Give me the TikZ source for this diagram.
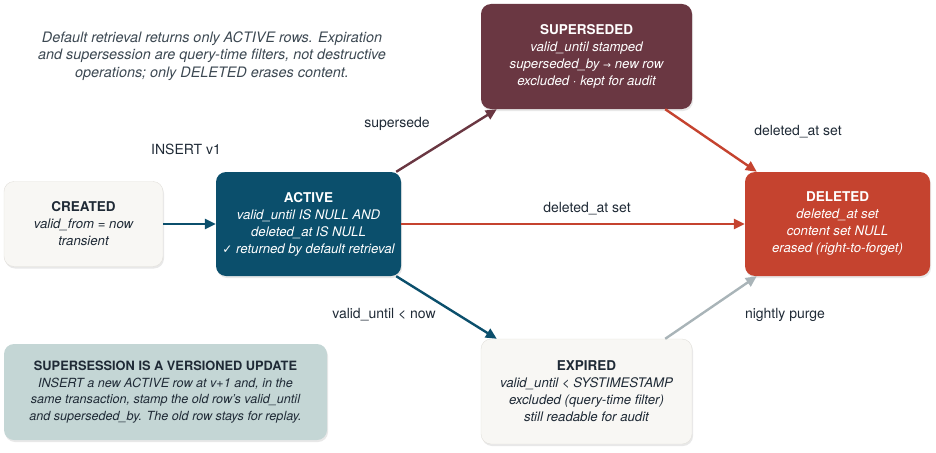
\documentclass[tikz,border=0pt]{standalone}
\usepackage{fontspec}
\setmainfont{TeX Gyre Heros}
\newfontfamily\symfont{DejaVu Sans}
\usetikzlibrary{arrows.meta,shadows}
\definecolor{ink}{HTML}{1F2A36}
\definecolor{notegray}{HTML}{3C4852}
\definecolor{paper}{HTML}{F8F7F4}
\definecolor{paperline}{HTML}{E2E0DB}
\definecolor{activecol}{HTML}{0B4F6C}
\definecolor{supercol}{HTML}{6A3742}
\definecolor{deletedcol}{HTML}{C5432F}
\definecolor{notefill}{HTML}{C4D6D5}
\definecolor{purgecol}{HTML}{A9B4B8}
\newcommand{\ttl}[1]{{\upshape\bfseries\fontsize{13.5}{17}\selectfont #1}}
\begin{document}
\begin{tikzpicture}[x=1pt,y=-1pt,
	state/.style={rounded corners=10pt, align=center, inner sep=0pt,
		font=\fontsize{13.2}{17}\selectfont\itshape,
		drop shadow={opacity=0.18, shadow xshift=1pt, shadow yshift=-2pt}},
	lbl/.style={text=ink, font=\fontsize{14}{16}\selectfont},
	flow/.style={line width=2.4pt, -{Triangle[length=11pt,width=10pt]}}]
	\useasboundingbox (0,0) rectangle (936,452);
	\node (intro) at (212,56) [text=notegray, align=center, font=\fontsize{14.4}{17.5}\selectfont\itshape]
		{Default retrieval returns only ACTIVE rows. Expiration\\and supersession are query-time filters, not destructive\\operations; only DELETED erases content.};
	\node (created) at (83.5,224) [state, minimum width=159pt, minimum height=85pt, fill=paper, draw=paperline, text=ink]
		{\ttl{CREATED}\\valid\_from = now\\transient};
	\node (active) at (308.5,224) [state, minimum width=185pt, minimum height=104pt, fill=activecol, text=white]
		{\ttl{ACTIVE}\\valid\_until IS NULL AND\\deleted\_at IS NULL\\{\symfont\upshape\fontsize{12}{17}\selectfont ✓} returned by default retrieval};
	\node (superseded) at (586.5,56.5) [state, minimum width=211pt, minimum height=105pt, fill=supercol, text=white]
		{\ttl{SUPERSEDED}\\valid\_until stamped\\superseded\_by {\symfont\upshape\fontsize{9.5}{17}\selectfont →} new row\\excluded · kept for audit};
	\node (deleted) at (837.5,224) [state, minimum width=185pt, minimum height=104pt, fill=deletedcol, text=white]
		{\ttl{DELETED}\\deleted\_at set\\content set NULL\\erased (right-to-forget)};
	\node (expired) at (586.5,391.5) [state, minimum width=211pt, minimum height=105pt, fill=paper, draw=paperline, text=ink]
		{\ttl{EXPIRED}\\valid\_until < SYSTIMESTAMP\\excluded (query-time filter)\\still readable for audit};
	\node (note) at (165.5,392) [state, minimum width=323pt, minimum height=96pt, fill=notefill, text=ink, font=\fontsize{12.6}{16.5}\selectfont\itshape]
		{{\upshape\bfseries\fontsize{12.8}{16.5}\selectfont SUPERSESSION IS A VERSIONED UPDATE}\\INSERT a new ACTIVE row at v+1 and, in the\\same transaction, stamp the old row's valid\_until\\and superseded\_by. The old row stays for replay.};
	\draw[flow, activecol] (created) -- (active);
	\draw[flow, supercol] ([xshift=-5pt]active.north east) -- ([xshift=16pt]superseded.south west);
	\draw[flow, deletedcol] (active) -- (deleted);
	\draw[flow, deletedcol] ([xshift=-27pt]superseded.south east) -- ([xshift=12pt]deleted.north west);
	\draw[flow, activecol] ([xshift=-5pt]active.south east) -- ([xshift=16pt]expired.north west);
	\draw[flow, purgecol] ([xshift=-27pt]expired.north east) -- ([xshift=12pt]deleted.south west);
	\node (insertlbl) at (186,149) [lbl] {INSERT v1};
	\node (supersedelbl) at (397,124) [lbl] {supersede};
	\node (deletelbl) at (587,209) [lbl] {deleted\_at set};
	\node (deletelbltwo) at (798,132) [lbl] {deleted\_at set};
	\node (expirelbl) at (384,315) [lbl] {valid\_until < now};
	\node (purgelbl) at (785,315) [lbl] {nightly purge};
\end{tikzpicture}
\end{document}
